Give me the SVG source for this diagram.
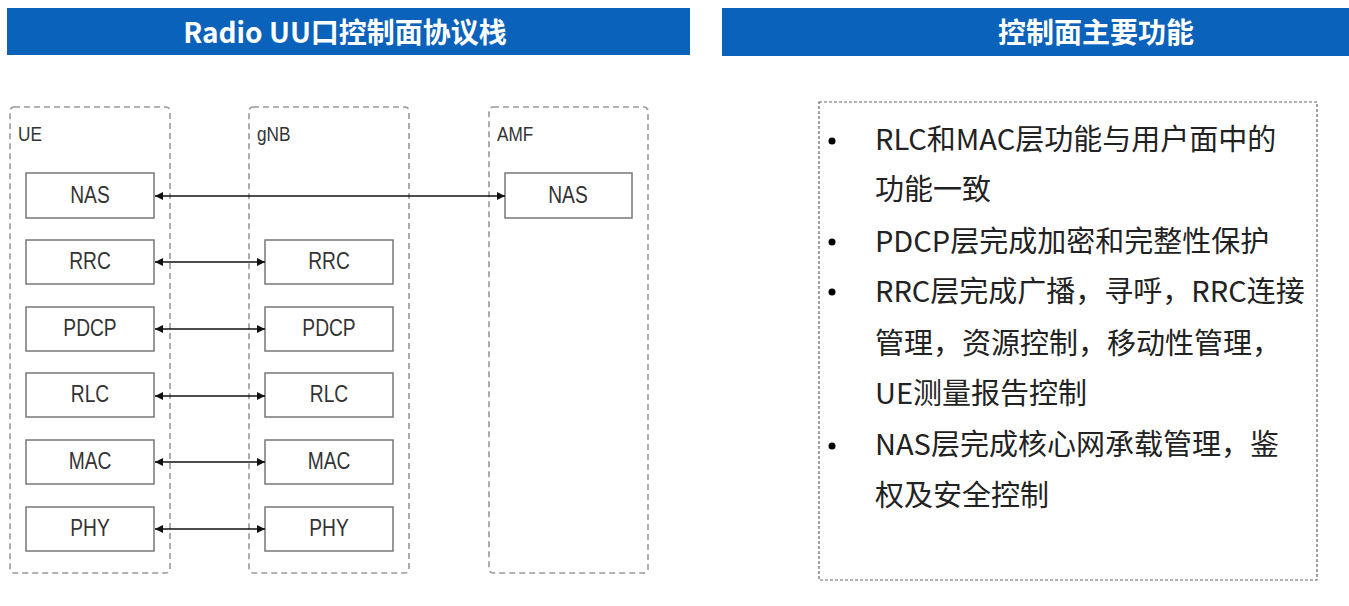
<svg xmlns="http://www.w3.org/2000/svg" width="1349" height="606" viewBox="0 0 1349 606">
<defs>
<style>
.hdr{fill:#0a62bb}
.htxt{fill:#fff;font-family:"Noto Sans CJK SC","Liberation Sans",sans-serif;font-weight:bold;font-size:28px;text-anchor:middle;dominant-baseline:central}
.cont{fill:none;stroke:#999;stroke-width:1.6;stroke-dasharray:6 4}
.clbl{fill:#333;font-family:"Liberation Sans",Arial,sans-serif;font-size:21px;transform-box:fill-box;transform-origin:left center;transform:scaleX(0.82)}
.box{fill:#fff;stroke:#777;stroke-width:1.5}
.btxt{fill:#333;font-family:"Liberation Sans",Arial,sans-serif;font-size:24px;text-anchor:middle;dominant-baseline:central;transform-box:fill-box;transform-origin:center;transform:scaleX(0.8)}
.conn{stroke:#111;stroke-width:1.6;fill:none;marker-start:url(#ah);marker-end:url(#ah)}
.panel{fill:none;stroke:#666;stroke-width:1.2;stroke-dasharray:3 2}
.ptxt{fill:#222;font-family:"Noto Sans CJK SC","Liberation Sans",sans-serif;font-size:29px;dominant-baseline:central}
</style>
<marker id="ah" viewBox="0 0 10 10" refX="10" refY="5" markerWidth="8" markerHeight="8" orient="auto-start-reverse" markerUnits="userSpaceOnUse">
<path d="M0,0 L10,5 L0,10 z" fill="#111"/>
</marker>
</defs>
<rect width="1349" height="606" fill="#fff"/>

<g id="header-left">
<rect class="hdr" x="7" y="8" width="683" height="47"/>
<text class="htxt" x="345" y="31">Radio UU口控制面协议栈</text>
</g>
<g id="header-right">
<rect class="hdr" x="722" y="8" width="627" height="48"/>
<text class="htxt" x="1096" y="31">控制面主要功能</text>
</g>

<g id="UE">
<rect class="cont" x="10" y="107" width="160" height="466" rx="4"/>
<text class="clbl" x="18" y="141">UE</text>
</g>
<g id="gNB">
<rect class="cont" x="249" y="107" width="160" height="466" rx="4"/>
<text class="clbl" x="257" y="141">gNB</text>
</g>
<g id="AMF">
<rect class="cont" x="489" y="107" width="159" height="466" rx="4"/>
<text class="clbl" x="497" y="141">AMF</text>
</g>

<g id="ue-nas"><rect class="box" x="26" y="173" width="128" height="45"/><text class="btxt" x="90" y="195">NAS</text></g>
<g id="ue-rrc"><rect class="box" x="26" y="240" width="128" height="44"/><text class="btxt" x="90" y="261">RRC</text></g>
<g id="ue-pdcp"><rect class="box" x="26" y="307" width="128" height="44"/><text class="btxt" x="90" y="328">PDCP</text></g>
<g id="ue-rlc"><rect class="box" x="26" y="373" width="128" height="44"/><text class="btxt" x="90" y="394">RLC</text></g>
<g id="ue-mac"><rect class="box" x="26" y="440" width="128" height="44"/><text class="btxt" x="90" y="461">MAC</text></g>
<g id="ue-phy"><rect class="box" x="26" y="507" width="128" height="44"/><text class="btxt" x="90" y="528">PHY</text></g>

<g id="gnb-rrc"><rect class="box" x="265" y="240" width="128" height="44"/><text class="btxt" x="329" y="261">RRC</text></g>
<g id="gnb-pdcp"><rect class="box" x="265" y="307" width="128" height="44"/><text class="btxt" x="329" y="328">PDCP</text></g>
<g id="gnb-rlc"><rect class="box" x="265" y="373" width="128" height="44"/><text class="btxt" x="329" y="394">RLC</text></g>
<g id="gnb-mac"><rect class="box" x="265" y="440" width="128" height="44"/><text class="btxt" x="329" y="461">MAC</text></g>
<g id="gnb-phy"><rect class="box" x="265" y="507" width="128" height="44"/><text class="btxt" x="329" y="528">PHY</text></g>

<g id="amf-nas"><rect class="box" x="505" y="173" width="127" height="45"/><text class="btxt" x="568" y="195">NAS</text></g>

<g id="connectors">
<line class="conn" x1="155" y1="196" x2="505" y2="196"/>
<line class="conn" x1="155" y1="262" x2="265" y2="262"/>
<line class="conn" x1="155" y1="329" x2="265" y2="329"/>
<line class="conn" x1="155" y1="396" x2="265" y2="396"/>
<line class="conn" x1="155" y1="462" x2="265" y2="462"/>
<line class="conn" x1="155" y1="529" x2="265" y2="529"/>
</g>

<g id="functions">
<rect class="panel" x="819" y="102" width="498" height="478"/>
<circle cx="832" cy="141" r="3.5" fill="#000"/>
<circle cx="832" cy="242" r="3.5" fill="#000"/>
<circle cx="832" cy="292" r="3.5" fill="#000"/>
<circle cx="832" cy="446" r="3.5" fill="#000"/>
<text class="ptxt" x="875" y="137">RLC和MAC层功能与用户面中的</text>
<text class="ptxt" x="875" y="187">功能一致</text>
<text class="ptxt" x="875" y="239">PDCP层完成加密和完整性保护</text>
<text class="ptxt" x="875" y="289">RRC层完成广播，寻呼，RRC连接</text>
<text class="ptxt" x="875" y="341">管理，资源控制，移动性管理，</text>
<text class="ptxt" x="875" y="391">UE测量报告控制</text>
<text class="ptxt" x="875" y="442">NAS层完成核心网承载管理，鉴</text>
<text class="ptxt" x="875" y="493">权及安全控制</text>
</g>
</svg>
